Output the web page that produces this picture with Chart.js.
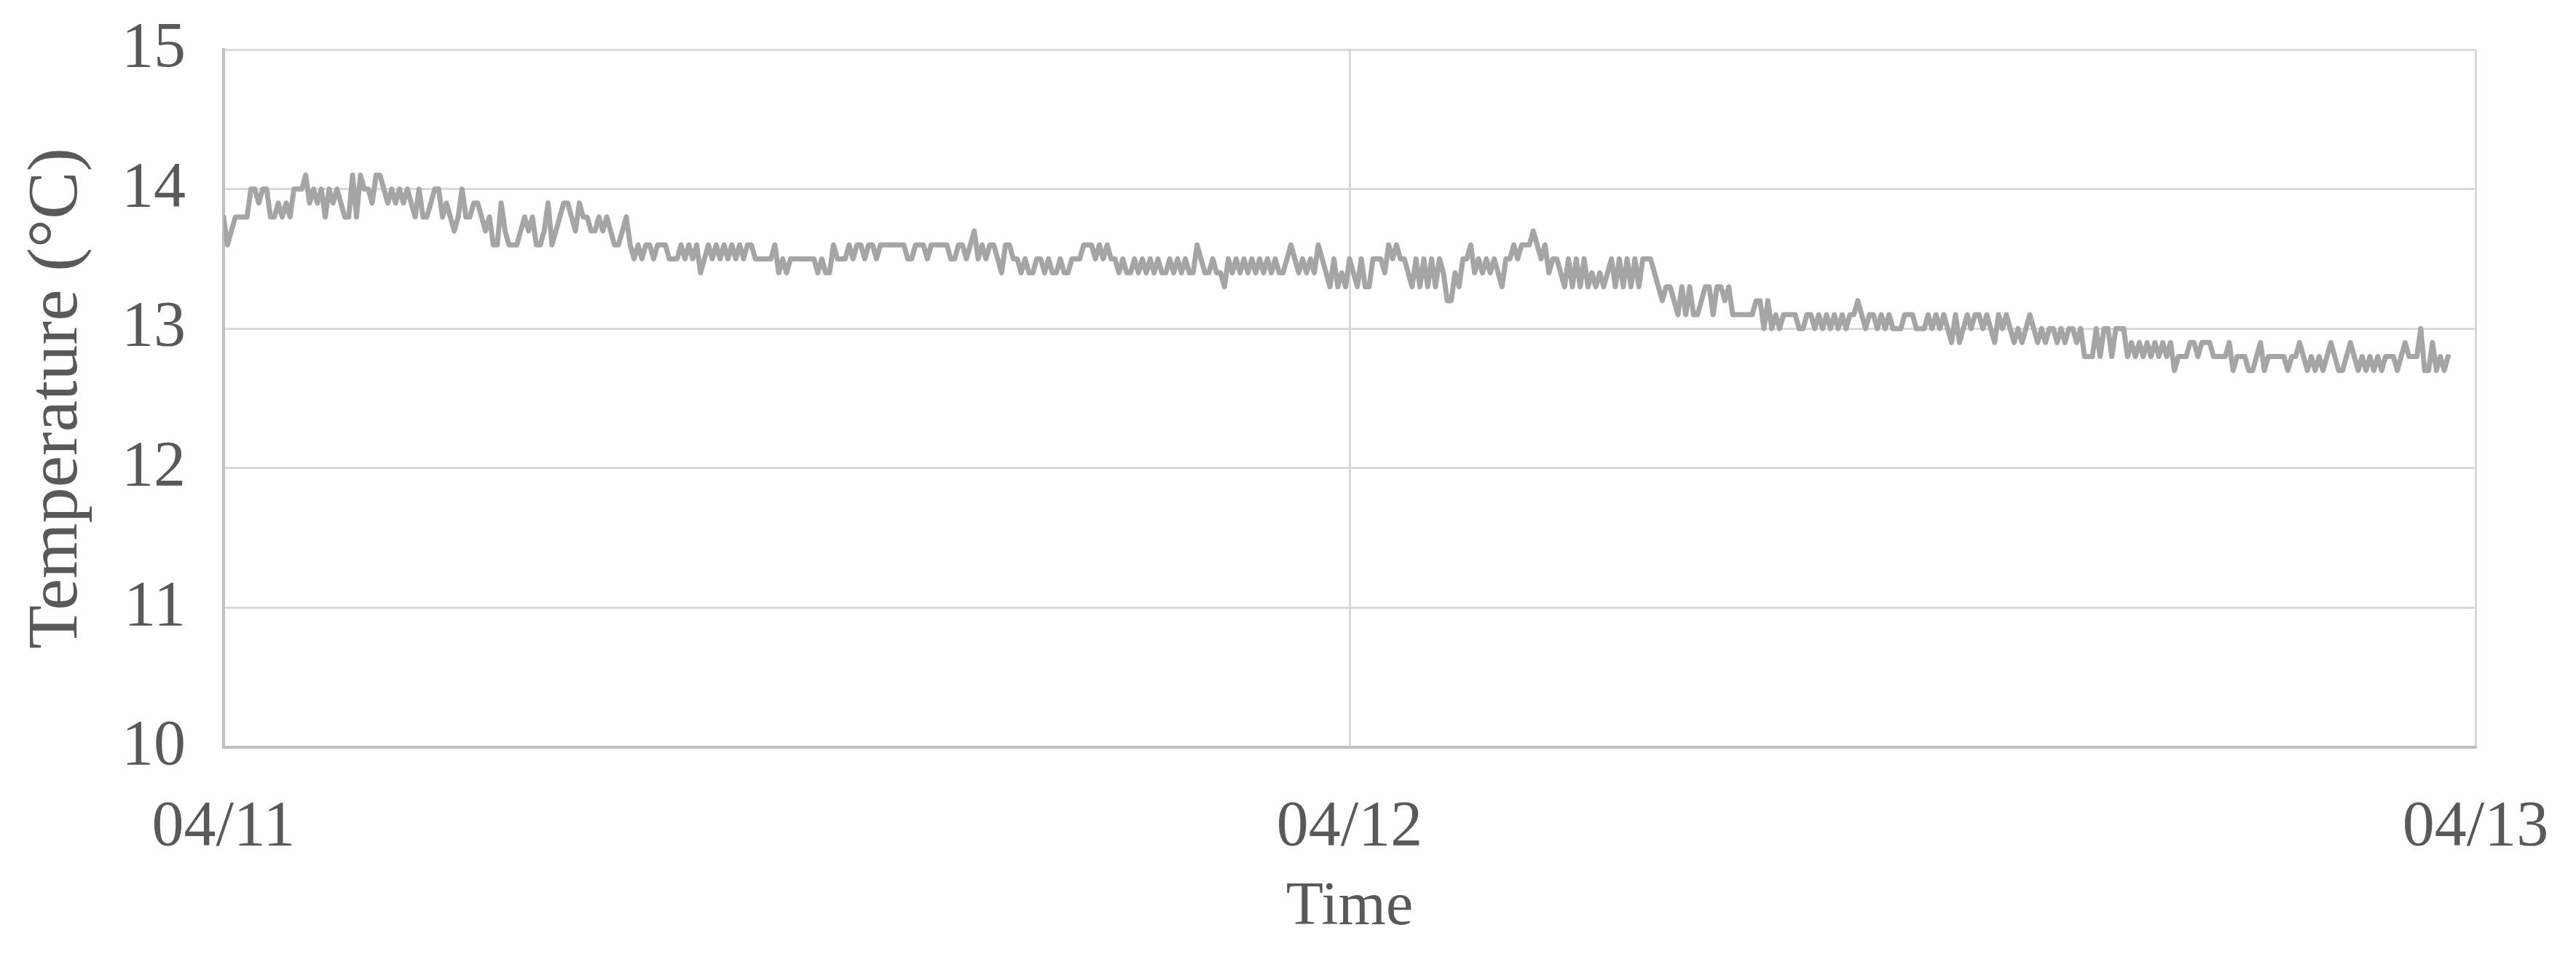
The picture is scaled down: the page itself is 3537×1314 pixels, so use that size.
<!DOCTYPE html>
<html>
<head>
<meta charset="utf-8">
<title>Temperature</title>
<script src="https://cdn.jsdelivr.net/npm/chart.js@4.4.1/dist/chart.umd.min.js"></script>
<style>
  body { margin: 0; background: #ffffff; }
  #wrap { width: 3537px; height: 1314px; }
</style>
</head>
<body>
<div id="wrap"><canvas id="temp" width="3537" height="1314"></canvas></div>
<script>
// logger reading every 5 minutes starting 04/11 00:00
const sampleMinutes = 5;

// temperature readings (°C), one row per hour
const temperature = [
  13.8,13.6,13.7,13.8,13.8,13.8,13.8,14.0,14.0,13.9,14.0,14.0,
  13.8,13.8,13.9,13.8,13.9,13.8,14.0,14.0,14.0,14.1,13.9,14.0,
  13.9,14.0,13.8,14.0,13.9,14.0,13.9,13.8,13.8,14.1,13.8,14.1,
  14.0,14.0,13.9,14.1,14.1,14.0,13.9,14.0,13.9,14.0,13.9,14.0,
  13.9,13.8,14.0,13.8,13.8,13.9,14.0,14.0,13.8,13.9,13.8,13.7,
  13.8,14.0,13.8,13.8,13.9,13.9,13.8,13.7,13.8,13.6,13.6,13.9,
  13.7,13.6,13.6,13.6,13.7,13.8,13.7,13.8,13.6,13.6,13.7,13.9,
  13.6,13.7,13.8,13.9,13.9,13.8,13.7,13.9,13.8,13.8,13.7,13.7,
  13.8,13.7,13.8,13.7,13.6,13.6,13.7,13.8,13.6,13.5,13.6,13.5,
  13.6,13.6,13.5,13.6,13.6,13.6,13.5,13.5,13.5,13.6,13.5,13.6,
  13.5,13.6,13.4,13.5,13.6,13.5,13.6,13.5,13.6,13.5,13.6,13.5,
  13.6,13.5,13.6,13.6,13.5,13.5,13.5,13.5,13.5,13.6,13.4,13.5,
  13.4,13.5,13.5,13.5,13.5,13.5,13.5,13.5,13.4,13.5,13.4,13.4,
  13.6,13.5,13.5,13.5,13.6,13.5,13.6,13.6,13.5,13.6,13.6,13.5,
  13.6,13.6,13.6,13.6,13.6,13.6,13.6,13.5,13.5,13.6,13.6,13.6,
  13.5,13.6,13.6,13.6,13.6,13.6,13.5,13.5,13.6,13.6,13.5,13.6,
  13.7,13.5,13.6,13.5,13.6,13.6,13.5,13.4,13.6,13.6,13.5,13.5,
  13.4,13.5,13.4,13.4,13.5,13.5,13.4,13.5,13.4,13.4,13.5,13.4,
  13.4,13.5,13.5,13.5,13.6,13.6,13.6,13.5,13.6,13.5,13.6,13.5,
  13.5,13.4,13.5,13.4,13.4,13.5,13.4,13.5,13.4,13.5,13.4,13.5,
  13.4,13.4,13.5,13.4,13.5,13.4,13.5,13.4,13.4,13.6,13.5,13.4,
  13.4,13.5,13.4,13.4,13.3,13.5,13.4,13.5,13.4,13.5,13.4,13.5,
  13.4,13.5,13.4,13.5,13.4,13.5,13.4,13.4,13.5,13.6,13.5,13.4,
  13.5,13.4,13.5,13.4,13.6,13.5,13.4,13.3,13.5,13.3,13.4,13.3,
  13.5,13.4,13.3,13.5,13.3,13.3,13.5,13.5,13.5,13.4,13.6,13.5,
  13.6,13.5,13.5,13.4,13.3,13.5,13.3,13.5,13.3,13.5,13.3,13.5,
  13.4,13.2,13.2,13.4,13.3,13.5,13.5,13.6,13.4,13.5,13.4,13.5,
  13.4,13.5,13.4,13.3,13.5,13.5,13.6,13.5,13.6,13.6,13.6,13.7,
  13.6,13.5,13.6,13.4,13.5,13.5,13.4,13.3,13.5,13.3,13.5,13.3,
  13.5,13.3,13.4,13.3,13.4,13.3,13.4,13.5,13.3,13.5,13.3,13.5,
  13.3,13.5,13.3,13.5,13.5,13.5,13.4,13.3,13.2,13.3,13.3,13.2,
  13.1,13.3,13.1,13.3,13.1,13.1,13.2,13.3,13.3,13.1,13.3,13.3,
  13.2,13.3,13.1,13.1,13.1,13.1,13.1,13.1,13.2,13.2,13.0,13.2,
  13.0,13.1,13.0,13.1,13.1,13.1,13.1,13.0,13.0,13.1,13.1,13.0,
  13.1,13.0,13.1,13.0,13.1,13.0,13.1,13.0,13.1,13.1,13.2,13.1,
  13.0,13.1,13.1,13.0,13.1,13.0,13.1,13.0,13.0,13.0,13.1,13.1,
  13.1,13.0,13.0,13.0,13.1,13.0,13.1,13.0,13.1,13.0,12.9,13.1,
  12.9,13.0,13.1,13.0,13.1,13.1,13.0,13.1,13.0,12.9,13.1,13.0,
  13.1,13.0,12.9,13.0,12.9,13.0,13.1,13.0,12.9,13.0,12.9,13.0,
  13.0,12.9,13.0,12.9,13.0,13.0,12.9,13.0,12.8,12.8,12.8,13.0,
  12.8,13.0,13.0,12.8,13.0,13.0,13.0,12.8,12.9,12.8,12.9,12.8,
  12.9,12.8,12.9,12.8,12.9,12.8,12.9,12.7,12.8,12.8,12.8,12.9,
  12.9,12.8,12.9,12.9,12.9,12.8,12.8,12.8,12.8,12.9,12.7,12.8,
  12.8,12.8,12.7,12.7,12.8,12.9,12.7,12.8,12.8,12.8,12.8,12.8,
  12.7,12.8,12.8,12.9,12.8,12.7,12.8,12.7,12.8,12.7,12.8,12.9,
  12.8,12.7,12.7,12.8,12.9,12.8,12.7,12.8,12.7,12.8,12.7,12.8,
  12.7,12.8,12.8,12.8,12.7,12.8,12.9,12.8,12.8,12.8,13.0,12.7,
  12.7,12.9,12.7,12.8,12.7,12.8
];

// x axis: hours since 04/11 00:00, one tick per day
const dayLabels = ['04/11', '04/12', '04/13'];
const yTicks = [10, 11, 12, 13, 14, 15];

const points = temperature.map((v, i) => ({ x: i * sampleMinutes / 60, y: v }));

const textColor = '#595959';
const fontFamily = "'Liberation Serif', 'Times New Roman', serif";

const tempChart = new Chart(document.getElementById('temp'), {
  type: 'line',
  data: {
    datasets: [
      {
        data: points,
        borderColor: '#A5A5A5',
        borderWidth: 7,
        borderCapStyle: 'round',
        borderJoinStyle: 'round',
        pointRadius: 0,
        tension: 0,
        fill: false,
      },
    ]
  },
  options: {
    responsive: false,
    animation: false,
    devicePixelRatio: 1,
    layout: { padding: { top: 68, right: 138, bottom: 0, left: 0 } },
    plugins: {
      legend: { display: false },
      title: { display: false },
      tooltip: { enabled: false },
    },
    scales: {
      x: {
        type: 'linear',
        min: 0,
        max: 48,
        afterBuildTicks: (axis) => { axis.ticks = [0, 24, 48].map(v => ({ value: v })); },
        // fixed axis box, labels may overflow the sides
        afterFit: (axis) => {
          axis.height = 288;
          axis.paddingLeft = 0;
          axis.paddingRight = 0;
        },
        ticks: {
          callback: (value) => dayLabels[value / 24],
          color: textColor,
          font: { family: fontFamily, size: 88 },
          padding: 58,
          maxRotation: 0,
          autoSkip: false,
        },
        grid: { color: '#D9D9D9', lineWidth: 3, drawTicks: false },
        border: { color: '#BFBFBF', width: 4 },
        title: {
          display: true,
          text: 'Time',
          color: textColor,
          font: { family: fontFamily, size: 84 },
          padding: { top: 0, bottom: 17 },
        },
      },
      y: {
        min: 10,
        max: 15,
        afterBuildTicks: (axis) => { axis.ticks = yTicks.map(v => ({ value: v })); },
        afterFit: (axis) => {
          axis.width = 307;
          axis.paddingTop = 0;
          axis.paddingBottom = 0;
        },
        ticks: {
          color: textColor,
          font: { family: fontFamily, size: 88 },
          padding: 52,
        },
        grid: { color: '#D9D9D9', lineWidth: 3, drawTicks: false },
        border: { color: '#BFBFBF', width: 4 },
        title: {
          display: true,
          text: 'Temperature (°C)',
          color: textColor,
          font: { family: fontFamily, size: 98 },
          padding: { top: 20, bottom: 0 },
        },
      },
    },
  },
});
</script>
</body>
</html>
